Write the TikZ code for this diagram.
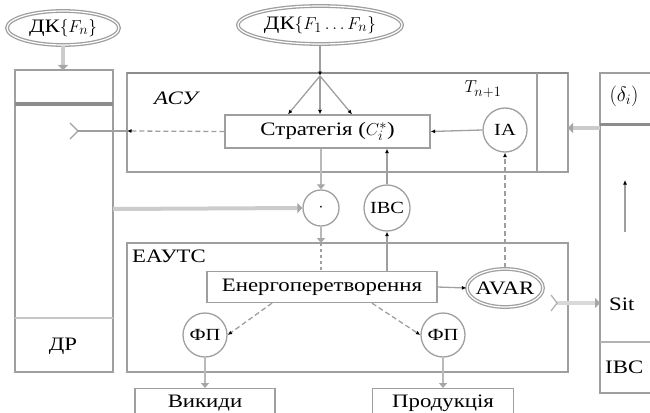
\documentclass[tikz,border=0pt]{standalone}
\usepackage{fontspec}
\setmainfont[FakeStretch=1.2]{Liberation Serif}
\usetikzlibrary{shapes.geometric,arrows.meta}
\newcommand{\fz}{\fontsize{19}{21}\selectfont}
\newcommand{\fc}{\fontsize{17}{19}\selectfont}
\begin{document}
\begin{tikzpicture}[x=1pt,y=-1pt,
  ln/.style={draw=gray!75,line width=1.3pt},
  boxr/.style={ln,fill=none},
  circ/.style={circle,ln,inner sep=-2pt,font=\fc},
  ell/.style={ellipse,ln,double=white,double distance=1.2pt,inner sep=-3pt,font=\fz},
  tip/.style={-{Latex[length=4.5pt,width=4pt,color=black]}},
  conn/.style={ln,tip},
  dconn/.style={ln,tip,dash pattern=on 5pt off 3pt},
  big/.style={draw=gray!40,line width=4pt,-{Triangle[length=5pt,width=10pt,color=gray!70]}},
  mid/.style={ln,draw=gray!55,line width=2.2pt,-{Triangle[length=5pt,width=8pt,color=gray!70]}},
  lbl/.style={font=\fz,inner sep=1pt}]
\useasboundingbox (0,0) rectangle (650,412);
\clip (0,0) rectangle (650,412);

% left column DR
\draw[boxr] (15,70) rectangle (113,372);
\draw[draw=gray!90,line width=3.5pt] (15,104) -- (113,104);
\draw[ln,draw=gray!45] (15,318) -- (113,318);
\node[lbl] (dr) at (63,346) {ДР};

% ASU
\draw[boxr] (127,73) rectangle (568,172);
\draw[draw=gray!90,line width=2.5pt] (127,73) -- (568,73);
\draw[ln] (537,73) -- (537,172);
\node[lbl,font=\fz\itshape] (asu) at (176,98) {АСУ};
\node[lbl] (tn) at (483,89) {$T_{n+1}$};

% right column
\draw[boxr] (600,73) rectangle (660,393);
\draw[draw=gray!90,line width=3pt] (600,124) -- (660,124);
\draw[ln,draw=gray!60,line width=1.8pt] (600,342) -- (660,342);
\node[lbl,font=\fontsize{22}{24}\selectfont] (delta) at (624,96) {$(\delta_i)$};
\node[lbl,anchor=west] (sit) at (608,304) {Sit};
\node[lbl,anchor=west] (ivs2) at (604,367) {ІВС};
\coordinate (upb) at (625,232);
\coordinate (upt) at (625,180);
\draw[conn] (upb) -- (upt);

% ellipses top
\node[ell,minimum width=112pt,minimum height=34pt] (dk1) at (63,28) {ДК$\{F_n\}$};
\node[ell,minimum width=164pt,minimum height=38pt] (dk2) at (320,25) {ДК$\{F_1\ldots F_n\}$};

% strategy
\node[rectangle,ln,minimum width=205pt,minimum height=33pt,inner sep=0pt,font=\fz] (strat) at (327.5,131.5) {Стратегія ($C_i^{*}$)};
\node[circ,minimum size=44pt] (ia) at (505,130) {IA};

% EAUTS
\draw[boxr] (127,243) rectangle (568,372);
\node[lbl] (eauts) at (169,256) {ЕАУТС};

\node[circ,minimum size=36pt] (mult) at (321,208) {$\cdot$};
\node[circ,minimum size=46pt] (ivs) at (387,208) {ІВС};

\node[rectangle,ln,minimum width=230pt,minimum height=31pt,inner sep=0pt,font=\fz] (energ) at (322,287) {Енергоперетворення};
\node[ell,minimum width=76pt,minimum height=38pt,inner sep=-4pt] (avar) at (505,288) {AVAR};
\node[circ,minimum size=44pt] (fp1) at (205,335) {ФП};
\node[circ,minimum size=44pt] (fp2) at (443,335) {ФП};

\node[rectangle,ln,minimum width=140pt,anchor=north,inner sep=3pt,text height=16pt,text depth=10pt,font=\fz] (out1) at (205,388) {Викиди};
\node[rectangle,ln,minimum width=141pt,anchor=north,inner sep=3pt,text height=16pt,text depth=10pt,font=\fz] (out2) at (443,388) {Продукція};

% connectors
\coordinate (drtop) at (63,70);
\draw[big] (dk1.south) -- (drtop);

\coordinate (junc) at (320,76);
\draw[conn] (dk2.south) -- (junc);
\draw[conn] (junc) -- ([xshift=-32pt]strat.north -| junc);
\draw[conn] (junc) -- (strat.north -| junc);
\draw[conn] (junc) -- ([xshift=32pt]strat.north -| junc);

\coordinate (asul) at (127,131);
\coordinate (fork) at (78,131);
\coordinate (fa) at (70,123);
\coordinate (fb) at (70,139);
\draw[dconn] (strat.west) -- (asul);
\draw[ln] (asul) -- (fork);
\draw[ln] (fa) -- (fork) -- (fb);

\draw[conn] (ia.west) -- (strat.east);

\coordinate (rcl) at (600,128);
\coordinate (asur) at (568,128);
\draw[big] (rcl) -- (asur);

\coordinate (drr) at (113,209);
\draw[big] (drr) -- (mult.west);

\draw[mid] (strat.south -| mult) -- (mult.north);
\coordinate (etop) at (321,243);
\draw[mid] (mult.south) -- (etop);
\draw[ln,dash pattern=on 3pt off 3pt] (etop) -- (energ.north -| etop);

\draw[conn] (energ.north -| ivs) -- (ivs.south);
\draw[conn] (ivs.north) -- (strat.south -| ivs);

\draw[dconn] (avar.north) -- (ia.south);
\draw[conn] (energ.east) -- (avar.west);

\draw[dconn] ([xshift=-50pt]energ.south) -- (fp1.east);
\draw[dconn] ([xshift=50pt]energ.south) -- (fp2.west);

\draw[mid] (fp1.south) -- (out1.north);
\draw[mid] (fp2.south) -- (out2.north);

\coordinate (ea) at (557,303);
\coordinate (eb) at (600,303);
\coordinate (efa) at (551,295);
\coordinate (efb) at (551,311);
\draw[big,draw=gray!30] (ea) -- (eb);
\draw[ln,draw=gray!60] (efa) -- (ea) -- (efb);
\end{tikzpicture}
\end{document}
